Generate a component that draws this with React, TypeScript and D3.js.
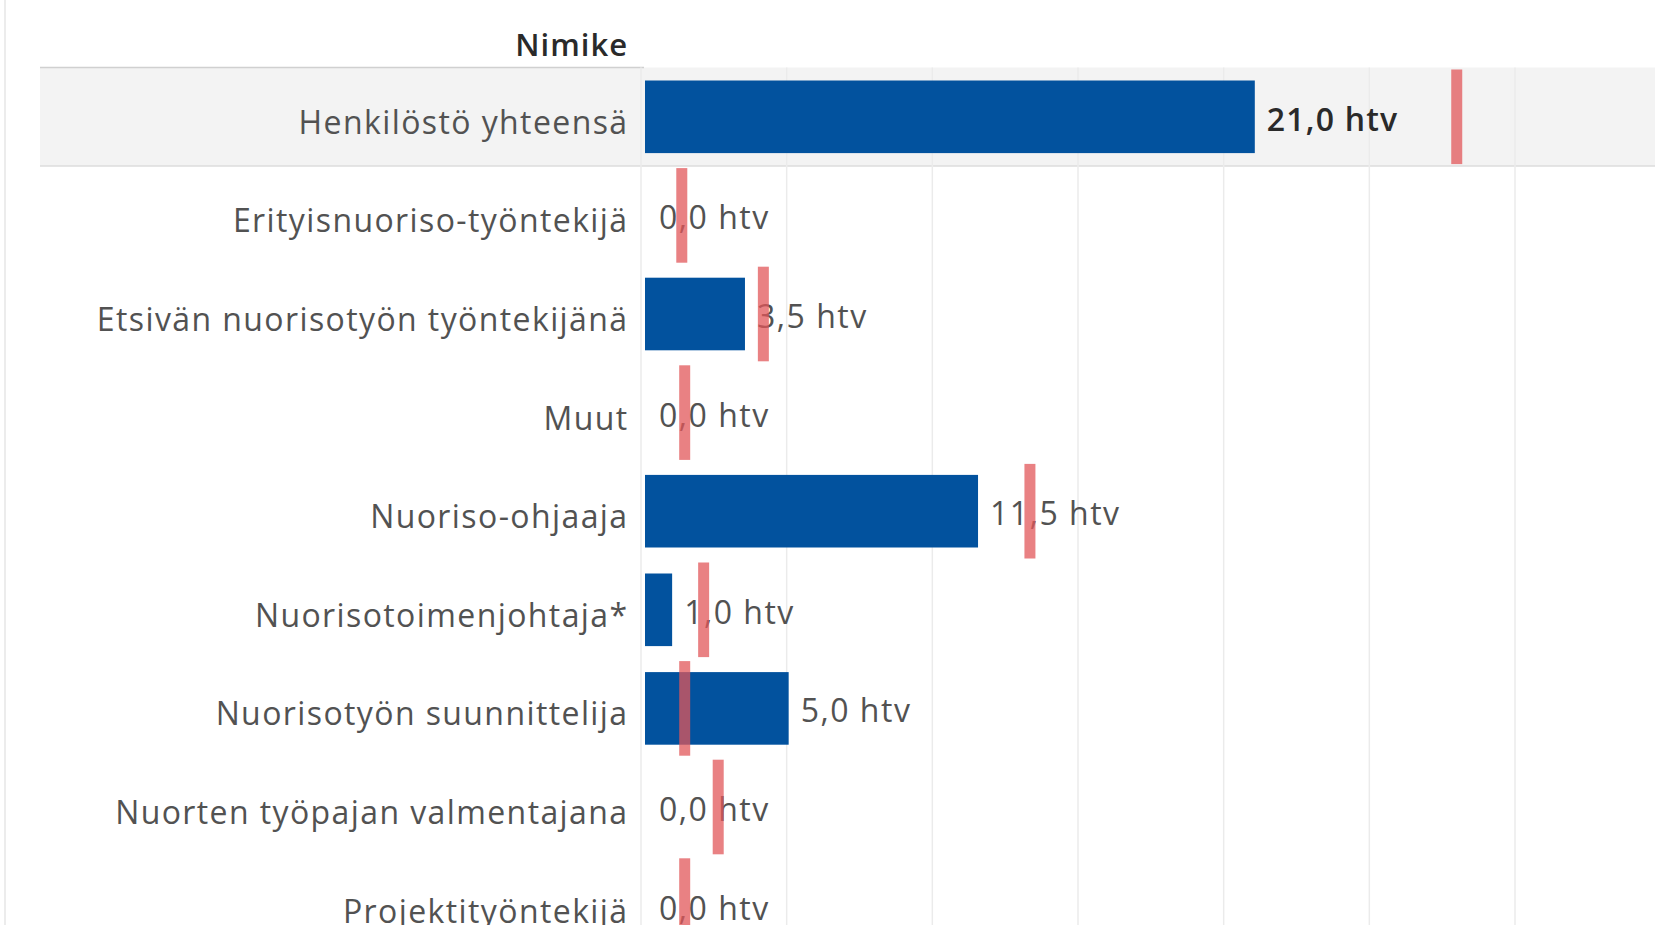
import { useEffect, useRef } from 'react';
import * as d3 from 'd3';

const nimikkeet = [
  'Henkilöstö yhteensä',
  'Erityisnuoriso-työntekijä',
  'Etsivän nuorisotyön työntekijänä',
  'Muut',
  'Nuoriso-ohjaaja',
  'Nuorisotoimenjohtaja*',
  'Nuorisotyön suunnittelija',
  'Nuorten työpajan valmentajana',
  'Projektityöntekijä',
];
const htv = [21.0, 0.0, 3.5, 0.0, 11.5, 1.0, 5.0, 0.0, 0.0];
const vertailu = [28.0, 1.4, 4.2, 1.5, 13.35, 2.15, 1.5, 2.65, 1.5];
const gridTicks = [0, 5, 10, 15, 20, 25, 30];

const [width, height] = [1655, 925];
const font = '"Open Sans", "Noto Sans", sans-serif';

function App() {
  const node = useRef<SVGSVGElement>(null);

  useEffect(() => {
    if (!node.current) return;
    document.body.style.margin = '0';
    const svg = d3.select(node.current);
    svg.selectAll('*').remove();

    const x = d3.scaleLinear().domain([0, 30]).range([641, 1515]);
    const y = d3.scaleBand().domain(nimikkeet).range([67.5, 67.5 + 98.6 * nimikkeet.length]);
    const bw = y.bandwidth();

    // page edge line
    svg.append('rect').attr('x', 4).attr('y', 0).attr('width', 2).attr('height', height).attr('fill', '#ececec');

    // highlighted total row
    const first = nimikkeet[0];
    svg.append('rect')
      .attr('x', 40).attr('y', y(first)!)
      .attr('width', width - 40).attr('height', bw)
      .attr('fill', '#f3f3f3');
    svg.append('line')
      .attr('x1', 40).attr('x2', width)
      .attr('y1', y(first)! + bw).attr('y2', y(first)! + bw)
      .attr('stroke', '#dcdcdc').attr('stroke-width', 1.5);
    svg.append('line')
      .attr('x1', 40).attr('x2', 644)
      .attr('y1', y(first)!).attr('y2', y(first)!)
      .attr('stroke', '#d0d0d0').attr('stroke-width', 1.5);

    // gridlines
    svg.append('g').selectAll('line')
      .data(gridTicks)
      .enter().append('line')
      .attr('x1', d => x(d)).attr('x2', d => x(d))
      .attr('y1', y(first)!).attr('y2', height)
      .attr('stroke', '#ebebeb').attr('stroke-width', 1.5);

    // header
    svg.append('text')
      .attr('x', 628).attr('y', 56)
      .attr('text-anchor', 'end')
      .attr('font-family', font).attr('font-size', 31).attr('font-weight', 600)
      .attr('letter-spacing', 1)
      .attr('fill', '#2a2a2a')
      .text('Nimike');

    // row labels
    svg.append('g').selectAll('text')
      .data(nimikkeet)
      .enter().append('text')
      .attr('x', 628.5)
      .attr('y', d => y(d)! + bw / 2 + 17)
      .attr('text-anchor', 'end')
      .attr('font-family', font).attr('font-size', 32)
      .attr('letter-spacing', 1.4)
      .attr('fill', '#525252')
      .text(d => d);

    // bars
    const barPad = 13;
    svg.append('g').selectAll('rect')
      .data(nimikkeet)
      .enter().append('rect')
      .attr('x', x(0) + 4)
      .attr('y', d => y(d)! + barPad)
      .attr('width', (_, i) => Math.max(0, x(htv[i]) - x(0) - 2))
      .attr('height', bw - barPad * 2)
      .attr('fill', '#02529e');

    // value labels
    svg.append('g').selectAll('text')
      .data(nimikkeet)
      .enter().append('text')
      .attr('x', (_, i) => x(htv[i]) + (htv[i] > 0 ? 14 : 18))
      .attr('y', d => y(d)! + bw / 2 + 14)
      .attr('font-family', font).attr('font-size', 32)
      .attr('letter-spacing', (_, i) => (i === 0 ? 1.2 : 1.5))
      .attr('font-weight', (_, i) => (i === 0 ? 600 : 400))
      .attr('fill', (_, i) => (i === 0 ? '#2a2a2a' : '#525252'))
      .text((_, i) => d3.format('.1f')(htv[i]).replace('.', ',') + ' htv');

    // reference lines
    svg.append('g').selectAll('rect')
      .data(nimikkeet)
      .enter().append('rect')
      .attr('x', (_, i) => x(vertailu[i]) - 5.5)
      .attr('y', d => y(d)! + 2)
      .attr('width', 11)
      .attr('height', bw - 4)
      .attr('fill', '#e15759')
      .attr('opacity', 0.75);
  }, [node]);

  return (
    <svg ref={node} width={width} height={height} style={{ display: 'block', background: '#fff' }}></svg>
  );
}

export default App;
